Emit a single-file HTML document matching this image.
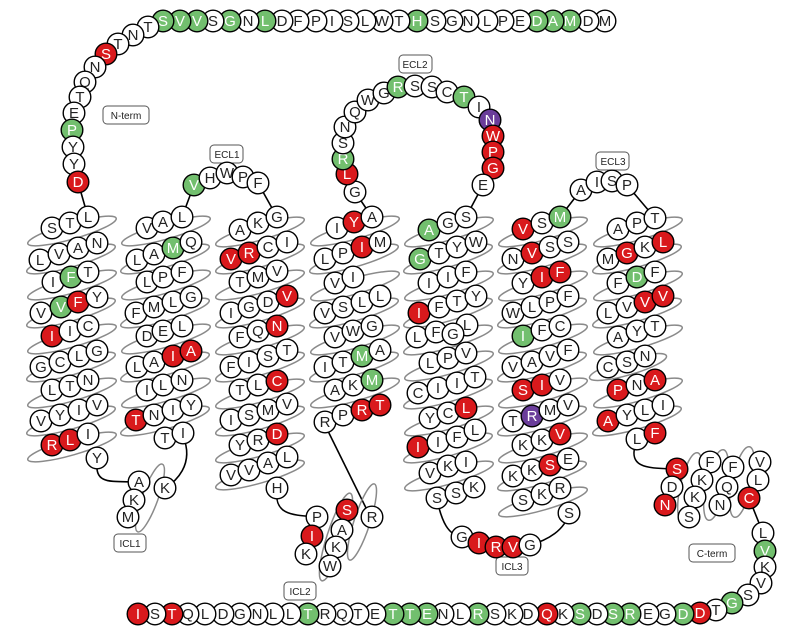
<!DOCTYPE html>
<html><head><meta charset="utf-8"><style>
html,body{margin:0;padding:0;background:#fff}
svg{display:block}
circle{fill:#fff;stroke:#000;stroke-width:1.4;r:10.8px}
.r circle{fill:#d9191c}.g circle{fill:#72bf6e}.p circle{fill:#6a3d9a}
text{font-family:"Liberation Sans",Arial,sans-serif;font-size:15px;text-anchor:middle;fill:#222}
.r text,.g text,.p text{fill:#fff}
.ln{fill:none;stroke:#000;stroke-width:1.6}
.el{fill:none;stroke:#8a8a8a;stroke-width:1.5}
.lb rect{fill:#fff;stroke:#555;stroke-width:1}
.lb text{font-size:10px;fill:#222}
</style></head><body>
<svg width="800" height="634" viewBox="0 0 800 634" xmlns="http://www.w3.org/2000/svg">
<path class="ln" d="M605 21 L163 21 L148 27 L133 35 L118 44 L106 54 L95 67 L85 82 L80 97 L74 113 L72 130 L73 147 L74 164 L78 182 L88 217"/>
<path class="ln" d="M97 462 C95 485 110 481 139 482"/>
<path class="ln" d="M183 436 C195 465 175 482 165 488"/>
<path class="ln" d="M182 217 L194 185 L210 178 L227 173 L243 177 L258 183 L277 217"/>
<path class="ln" d="M277 490 C274 515 292 515 317 517"/>
<path class="ln" d="M325 425 L368 512"/>
<path class="ln" d="M372 217 L355 192 L347 174 L343 159 L343 143 L345 127 L355 112 L368 100 L384 93 L398 87 L415 86 L432 87 L447 92 L464 97 L479 107 L490 120 L493 136 L493 152 L493 168 L483 185 L466 217"/>
<path class="ln" d="M437 500 C442 522 448 535 462 537 L479 543 L496 547 L513 547 L530 545 C548 540 565 530 569 513"/>
<path class="ln" d="M560 217 L581 190 L597 182 L612 181 L627 185 L655 218"/>
<path class="ln" d="M637 440 C625 470 650 468 677 469"/>
<path class="ln" d="M749 498 L763 533 L765 551 L765 567 L761 583 L748 595 L732 603 L716 610 L700 613 L138 613"/>
<g class="el">
<ellipse cx="72" cy="231" rx="46" ry="8" transform="rotate(-16 72 231)"/>
<ellipse cx="71" cy="259" rx="46" ry="8" transform="rotate(-16 71 259)"/>
<ellipse cx="72" cy="285" rx="46" ry="8" transform="rotate(-16 72 285)"/>
<ellipse cx="71" cy="313" rx="46" ry="8" transform="rotate(-16 71 313)"/>
<ellipse cx="72" cy="339" rx="46" ry="8" transform="rotate(-16 72 339)"/>
<ellipse cx="71" cy="367" rx="46" ry="8" transform="rotate(-16 71 367)"/>
<ellipse cx="72" cy="393" rx="46" ry="8" transform="rotate(-16 72 393)"/>
<ellipse cx="71" cy="421" rx="46" ry="8" transform="rotate(-16 71 421)"/>
<ellipse cx="72" cy="447" rx="46" ry="8" transform="rotate(-16 72 447)"/>
<ellipse cx="166" cy="231" rx="46" ry="8" transform="rotate(-16 166 231)"/>
<ellipse cx="165" cy="259" rx="46" ry="8" transform="rotate(-16 165 259)"/>
<ellipse cx="166" cy="285" rx="46" ry="8" transform="rotate(-16 166 285)"/>
<ellipse cx="165" cy="313" rx="46" ry="8" transform="rotate(-16 165 313)"/>
<ellipse cx="166" cy="339" rx="46" ry="8" transform="rotate(-16 166 339)"/>
<ellipse cx="165" cy="367" rx="46" ry="8" transform="rotate(-16 165 367)"/>
<ellipse cx="166" cy="393" rx="46" ry="8" transform="rotate(-16 166 393)"/>
<ellipse cx="165" cy="421" rx="46" ry="8" transform="rotate(-16 165 421)"/>
<ellipse cx="260" cy="232" rx="46" ry="8" transform="rotate(-16 260 232)"/>
<ellipse cx="260" cy="259" rx="46" ry="8" transform="rotate(-16 260 259)"/>
<ellipse cx="260" cy="285" rx="46" ry="8" transform="rotate(-16 260 285)"/>
<ellipse cx="260" cy="313" rx="46" ry="8" transform="rotate(-16 260 313)"/>
<ellipse cx="260" cy="340" rx="46" ry="8" transform="rotate(-16 260 340)"/>
<ellipse cx="260" cy="367" rx="46" ry="8" transform="rotate(-16 260 367)"/>
<ellipse cx="260" cy="394" rx="46" ry="8" transform="rotate(-16 260 394)"/>
<ellipse cx="260" cy="421" rx="46" ry="8" transform="rotate(-16 260 421)"/>
<ellipse cx="260" cy="448" rx="46" ry="8" transform="rotate(-16 260 448)"/>
<ellipse cx="260" cy="475" rx="46" ry="8" transform="rotate(-16 260 475)"/>
<ellipse cx="355" cy="231" rx="46" ry="8" transform="rotate(-16 355 231)"/>
<ellipse cx="354" cy="259" rx="46" ry="8" transform="rotate(-16 354 259)"/>
<ellipse cx="355" cy="286" rx="46" ry="8" transform="rotate(-16 355 286)"/>
<ellipse cx="354" cy="313" rx="46" ry="8" transform="rotate(-16 354 313)"/>
<ellipse cx="355" cy="340" rx="46" ry="8" transform="rotate(-16 355 340)"/>
<ellipse cx="354" cy="367" rx="46" ry="8" transform="rotate(-16 354 367)"/>
<ellipse cx="355" cy="393" rx="46" ry="8" transform="rotate(-16 355 393)"/>
<ellipse cx="449" cy="232" rx="46" ry="8" transform="rotate(-16 449 232)"/>
<ellipse cx="448" cy="259" rx="46" ry="8" transform="rotate(-16 448 259)"/>
<ellipse cx="449" cy="286" rx="46" ry="8" transform="rotate(-16 449 286)"/>
<ellipse cx="448" cy="313" rx="46" ry="8" transform="rotate(-16 448 313)"/>
<ellipse cx="448" cy="340" rx="46" ry="8" transform="rotate(-16 448 340)"/>
<ellipse cx="449" cy="366" rx="46" ry="8" transform="rotate(-16 449 366)"/>
<ellipse cx="448" cy="394" rx="46" ry="8" transform="rotate(-16 448 394)"/>
<ellipse cx="449" cy="421" rx="46" ry="8" transform="rotate(-16 449 421)"/>
<ellipse cx="448" cy="448" rx="46" ry="8" transform="rotate(-16 448 448)"/>
<ellipse cx="449" cy="476" rx="46" ry="8" transform="rotate(-16 449 476)"/>
<ellipse cx="543" cy="232" rx="46" ry="8" transform="rotate(-16 543 232)"/>
<ellipse cx="542" cy="259" rx="46" ry="8" transform="rotate(-16 542 259)"/>
<ellipse cx="543" cy="286" rx="46" ry="8" transform="rotate(-16 543 286)"/>
<ellipse cx="542" cy="313" rx="46" ry="8" transform="rotate(-16 542 313)"/>
<ellipse cx="543" cy="339" rx="46" ry="8" transform="rotate(-16 543 339)"/>
<ellipse cx="542" cy="367" rx="46" ry="8" transform="rotate(-16 542 367)"/>
<ellipse cx="543" cy="393" rx="46" ry="8" transform="rotate(-16 543 393)"/>
<ellipse cx="542" cy="421" rx="46" ry="8" transform="rotate(-16 542 421)"/>
<ellipse cx="543" cy="448" rx="46" ry="8" transform="rotate(-16 543 448)"/>
<ellipse cx="542" cy="476" rx="46" ry="8" transform="rotate(-16 542 476)"/>
<ellipse cx="543" cy="502" rx="46" ry="8" transform="rotate(-16 543 502)"/>
<ellipse cx="638" cy="232" rx="46" ry="8" transform="rotate(-16 638 232)"/>
<ellipse cx="637" cy="259" rx="46" ry="8" transform="rotate(-16 637 259)"/>
<ellipse cx="638" cy="286" rx="46" ry="8" transform="rotate(-16 638 286)"/>
<ellipse cx="637" cy="313" rx="46" ry="8" transform="rotate(-16 637 313)"/>
<ellipse cx="638" cy="340" rx="46" ry="8" transform="rotate(-16 638 340)"/>
<ellipse cx="628" cy="367" rx="40" ry="8" transform="rotate(-16 628 367)"/>
<ellipse cx="638" cy="393" rx="46" ry="8" transform="rotate(-16 638 393)"/>
<ellipse cx="637" cy="421" rx="46" ry="8" transform="rotate(-16 637 421)"/>
<ellipse cx="150" cy="498" rx="8" ry="36" transform="rotate(20 150 498)"/>
<ellipse cx="336" cy="537" rx="9" ry="46" transform="rotate(18 336 537)"/>
<ellipse cx="362" cy="522" rx="8" ry="40" transform="rotate(18 362 522)"/>
<ellipse cx="690" cy="488" rx="10" ry="36" transform="rotate(12 690 488)"/>
<ellipse cx="716" cy="485" rx="10" ry="36" transform="rotate(12 716 485)"/>
<ellipse cx="742" cy="482" rx="10" ry="36" transform="rotate(12 742 482)"/>
</g>
<g class="lb">
<rect x="103" y="106" width="46" height="18" rx="4"/><text x="126" y="119">N-term</text>
<rect x="210" y="145" width="33" height="18" rx="4"/><text x="227" y="158">ECL1</text>
<rect x="399" y="55" width="33" height="18" rx="4"/><text x="415" y="68">ECL2</text>
<rect x="596" y="152" width="33" height="18" rx="4"/><text x="613" y="165">ECL3</text>
<rect x="114" y="534" width="32" height="18" rx="4"/><text x="130" y="547">ICL1</text>
<rect x="284" y="582" width="32" height="18" rx="4"/><text x="300" y="595">ICL2</text>
<rect x="496" y="557" width="32" height="18" rx="4"/><text x="512" y="570">ICL3</text>
<rect x="689" y="544" width="46" height="18" rx="4"/><text x="712" y="557">C-term</text>
</g>
<g>
<g><circle cx="605" cy="21" r="10"/><text x="605" y="26">M</text></g>
<g><circle cx="588" cy="21" r="10"/><text x="588" y="26">D</text></g>
<g class="g"><circle cx="570" cy="21" r="10"/><text x="570" y="26">M</text></g>
<g class="g"><circle cx="553" cy="21" r="10"/><text x="553" y="26">A</text></g>
<g class="g"><circle cx="537" cy="21" r="10"/><text x="537" y="26">D</text></g>
<g><circle cx="520" cy="21" r="10"/><text x="520" y="26">E</text></g>
<g><circle cx="503" cy="21" r="10"/><text x="503" y="26">P</text></g>
<g><circle cx="487" cy="21" r="10"/><text x="487" y="26">L</text></g>
<g><circle cx="468" cy="21" r="10"/><text x="468" y="26">N</text></g>
<g><circle cx="452" cy="21" r="10"/><text x="452" y="26">G</text></g>
<g><circle cx="435" cy="21" r="10"/><text x="435" y="26">S</text></g>
<g class="g"><circle cx="417" cy="21" r="10"/><text x="417" y="26">H</text></g>
<g><circle cx="399" cy="21" r="10"/><text x="399" y="26">T</text></g>
<g><circle cx="382" cy="21" r="10"/><text x="382" y="26">W</text></g>
<g><circle cx="365" cy="21" r="10"/><text x="365" y="26">L</text></g>
<g><circle cx="348" cy="21" r="10"/><text x="348" y="26">S</text></g>
<g><circle cx="332" cy="21" r="10"/><text x="332" y="26">I</text></g>
<g><circle cx="316" cy="21" r="10"/><text x="316" y="26">P</text></g>
<g><circle cx="298" cy="21" r="10"/><text x="298" y="26">F</text></g>
<g><circle cx="282" cy="21" r="10"/><text x="282" y="26">D</text></g>
<g class="g"><circle cx="265" cy="21" r="10"/><text x="265" y="26">L</text></g>
<g><circle cx="248" cy="21" r="10"/><text x="248" y="26">N</text></g>
<g class="g"><circle cx="230" cy="21" r="10"/><text x="230" y="26">G</text></g>
<g><circle cx="213" cy="21" r="10"/><text x="213" y="26">S</text></g>
<g class="g"><circle cx="197" cy="21" r="10"/><text x="197" y="26">V</text></g>
<g class="g"><circle cx="180" cy="21" r="10"/><text x="180" y="26">V</text></g>
<g class="g"><circle cx="163" cy="21" r="10"/><text x="163" y="26">S</text></g>
<g><circle cx="148" cy="27" r="10"/><text x="148" y="32">T</text></g>
<g><circle cx="133" cy="35" r="10"/><text x="133" y="40">N</text></g>
<g><circle cx="118" cy="44" r="10"/><text x="118" y="49">T</text></g>
<g class="r"><circle cx="106" cy="54" r="10"/><text x="106" y="59">S</text></g>
<g><circle cx="95" cy="67" r="10"/><text x="95" y="72">N</text></g>
<g><circle cx="85" cy="82" r="10"/><text x="85" y="87">Q</text></g>
<g><circle cx="80" cy="97" r="10"/><text x="80" y="102">T</text></g>
<g><circle cx="74" cy="113" r="10"/><text x="74" y="118">E</text></g>
<g class="g"><circle cx="72" cy="130" r="10"/><text x="72" y="135">P</text></g>
<g><circle cx="73" cy="147" r="10"/><text x="73" y="152">Y</text></g>
<g><circle cx="74" cy="164" r="10"/><text x="74" y="169">Y</text></g>
<g class="r"><circle cx="78" cy="182" r="10"/><text x="78" y="187">D</text></g>
<g><circle cx="52" cy="228" r="10"/><text x="52" y="233">S</text></g>
<g><circle cx="70" cy="223" r="10"/><text x="70" y="228">T</text></g>
<g><circle cx="88" cy="217" r="10"/><text x="88" y="222">L</text></g>
<g><circle cx="40" cy="260" r="10"/><text x="40" y="265">L</text></g>
<g><circle cx="59" cy="254" r="10"/><text x="59" y="259">V</text></g>
<g><circle cx="78" cy="248" r="10"/><text x="78" y="253">A</text></g>
<g><circle cx="97" cy="243" r="10"/><text x="97" y="248">N</text></g>
<g><circle cx="53" cy="282" r="10"/><text x="53" y="287">I</text></g>
<g class="g"><circle cx="71" cy="277" r="10"/><text x="71" y="282">F</text></g>
<g><circle cx="88" cy="272" r="10"/><text x="88" y="277">T</text></g>
<g><circle cx="41" cy="313" r="10"/><text x="41" y="318">V</text></g>
<g class="g"><circle cx="61" cy="307" r="10"/><text x="61" y="312">V</text></g>
<g class="r"><circle cx="78" cy="302" r="10"/><text x="78" y="307">F</text></g>
<g><circle cx="97" cy="297" r="10"/><text x="97" y="302">Y</text></g>
<g class="r"><circle cx="52" cy="336" r="10"/><text x="52" y="341">I</text></g>
<g><circle cx="70" cy="331" r="10"/><text x="70" y="336">I</text></g>
<g><circle cx="88" cy="326" r="10"/><text x="88" y="331">C</text></g>
<g><circle cx="41" cy="367" r="10"/><text x="41" y="372">G</text></g>
<g><circle cx="60" cy="362" r="10"/><text x="60" y="367">C</text></g>
<g><circle cx="79" cy="356" r="10"/><text x="79" y="361">L</text></g>
<g><circle cx="97" cy="351" r="10"/><text x="97" y="356">G</text></g>
<g><circle cx="52" cy="390" r="10"/><text x="52" y="395">L</text></g>
<g><circle cx="70" cy="386" r="10"/><text x="70" y="391">T</text></g>
<g><circle cx="88" cy="380" r="10"/><text x="88" y="385">N</text></g>
<g><circle cx="41" cy="421" r="10"/><text x="41" y="426">V</text></g>
<g><circle cx="60" cy="415" r="10"/><text x="60" y="420">Y</text></g>
<g><circle cx="79" cy="410" r="10"/><text x="79" y="415">I</text></g>
<g><circle cx="97" cy="405" r="10"/><text x="97" y="410">V</text></g>
<g class="r"><circle cx="52" cy="445" r="10"/><text x="52" y="450">R</text></g>
<g class="r"><circle cx="70" cy="440" r="10"/><text x="70" y="445">L</text></g>
<g><circle cx="88" cy="434" r="10"/><text x="88" y="439">I</text></g>
<g><circle cx="97" cy="458" r="10"/><text x="97" y="463">Y</text></g>
<g><circle cx="139" cy="482" r="10"/><text x="139" y="487">A</text></g>
<g><circle cx="134" cy="500" r="10"/><text x="134" y="505">K</text></g>
<g><circle cx="128" cy="517" r="10"/><text x="128" y="522">M</text></g>
<g><circle cx="165" cy="488" r="10"/><text x="165" y="493">K</text></g>
<g><circle cx="147" cy="228" r="10"/><text x="147" y="233">V</text></g>
<g><circle cx="163" cy="222" r="10"/><text x="163" y="227">A</text></g>
<g><circle cx="182" cy="217" r="10"/><text x="182" y="222">L</text></g>
<g><circle cx="137" cy="260" r="10"/><text x="137" y="265">L</text></g>
<g><circle cx="154" cy="254" r="10"/><text x="154" y="259">A</text></g>
<g class="g"><circle cx="173" cy="248" r="10"/><text x="173" y="253">M</text></g>
<g><circle cx="191" cy="242" r="10"/><text x="191" y="247">Q</text></g>
<g><circle cx="147" cy="282" r="10"/><text x="147" y="287">L</text></g>
<g><circle cx="163" cy="277" r="10"/><text x="163" y="282">P</text></g>
<g><circle cx="182" cy="272" r="10"/><text x="182" y="277">F</text></g>
<g><circle cx="136" cy="313" r="10"/><text x="136" y="318">F</text></g>
<g><circle cx="154" cy="307" r="10"/><text x="154" y="312">M</text></g>
<g><circle cx="173" cy="302" r="10"/><text x="173" y="307">L</text></g>
<g><circle cx="191" cy="297" r="10"/><text x="191" y="302">G</text></g>
<g><circle cx="147" cy="336" r="10"/><text x="147" y="341">D</text></g>
<g><circle cx="163" cy="331" r="10"/><text x="163" y="336">E</text></g>
<g><circle cx="182" cy="326" r="10"/><text x="182" y="331">L</text></g>
<g><circle cx="137" cy="367" r="10"/><text x="137" y="372">L</text></g>
<g><circle cx="154" cy="362" r="10"/><text x="154" y="367">A</text></g>
<g class="r"><circle cx="173" cy="356" r="10"/><text x="173" y="361">I</text></g>
<g class="r"><circle cx="191" cy="351" r="10"/><text x="191" y="356">A</text></g>
<g><circle cx="147" cy="390" r="10"/><text x="147" y="395">I</text></g>
<g><circle cx="163" cy="385" r="10"/><text x="163" y="390">L</text></g>
<g><circle cx="182" cy="380" r="10"/><text x="182" y="385">N</text></g>
<g class="r"><circle cx="136" cy="420" r="10"/><text x="136" y="425">T</text></g>
<g><circle cx="154" cy="415" r="10"/><text x="154" y="420">N</text></g>
<g><circle cx="173" cy="410" r="10"/><text x="173" y="415">I</text></g>
<g><circle cx="191" cy="405" r="10"/><text x="191" y="410">Y</text></g>
<g><circle cx="165" cy="438" r="10"/><text x="165" y="443">T</text></g>
<g><circle cx="183" cy="433" r="10"/><text x="183" y="438">I</text></g>
<g class="g"><circle cx="194" cy="185" r="10"/><text x="194" y="190">V</text></g>
<g><circle cx="210" cy="178" r="10"/><text x="210" y="183">H</text></g>
<g><circle cx="227" cy="173" r="10"/><text x="227" y="178">W</text></g>
<g><circle cx="243" cy="177" r="10"/><text x="243" y="182">P</text></g>
<g><circle cx="258" cy="183" r="10"/><text x="258" y="188">F</text></g>
<g><circle cx="240" cy="230" r="10"/><text x="240" y="235">A</text></g>
<g><circle cx="258" cy="223" r="10"/><text x="258" y="228">K</text></g>
<g><circle cx="277" cy="217" r="10"/><text x="277" y="222">G</text></g>
<g class="r"><circle cx="231" cy="259" r="10"/><text x="231" y="264">V</text></g>
<g class="r"><circle cx="249" cy="253" r="10"/><text x="249" y="258">R</text></g>
<g><circle cx="268" cy="247" r="10"/><text x="268" y="252">C</text></g>
<g><circle cx="287" cy="242" r="10"/><text x="287" y="247">I</text></g>
<g><circle cx="240" cy="282" r="10"/><text x="240" y="287">T</text></g>
<g><circle cx="258" cy="277" r="10"/><text x="258" y="282">M</text></g>
<g><circle cx="277" cy="271" r="10"/><text x="277" y="276">V</text></g>
<g><circle cx="231" cy="313" r="10"/><text x="231" y="318">I</text></g>
<g><circle cx="249" cy="307" r="10"/><text x="249" y="312">G</text></g>
<g><circle cx="268" cy="302" r="10"/><text x="268" y="307">D</text></g>
<g class="r"><circle cx="287" cy="296" r="10"/><text x="287" y="301">V</text></g>
<g><circle cx="240" cy="337" r="10"/><text x="240" y="342">F</text></g>
<g><circle cx="258" cy="331" r="10"/><text x="258" y="336">Q</text></g>
<g class="r"><circle cx="277" cy="326" r="10"/><text x="277" y="331">N</text></g>
<g><circle cx="231" cy="367" r="10"/><text x="231" y="372">F</text></g>
<g><circle cx="249" cy="362" r="10"/><text x="249" y="367">I</text></g>
<g><circle cx="268" cy="356" r="10"/><text x="268" y="361">S</text></g>
<g><circle cx="287" cy="350" r="10"/><text x="287" y="355">T</text></g>
<g><circle cx="240" cy="390" r="10"/><text x="240" y="395">T</text></g>
<g><circle cx="258" cy="385" r="10"/><text x="258" y="390">L</text></g>
<g class="r"><circle cx="277" cy="381" r="10"/><text x="277" y="386">C</text></g>
<g><circle cx="231" cy="420" r="10"/><text x="231" y="425">I</text></g>
<g><circle cx="249" cy="415" r="10"/><text x="249" y="420">S</text></g>
<g><circle cx="268" cy="410" r="10"/><text x="268" y="415">M</text></g>
<g><circle cx="287" cy="404" r="10"/><text x="287" y="409">V</text></g>
<g><circle cx="240" cy="445" r="10"/><text x="240" y="450">Y</text></g>
<g><circle cx="258" cy="440" r="10"/><text x="258" y="445">R</text></g>
<g class="r"><circle cx="277" cy="434" r="10"/><text x="277" y="439">D</text></g>
<g><circle cx="231" cy="475" r="10"/><text x="231" y="480">V</text></g>
<g><circle cx="249" cy="470" r="10"/><text x="249" y="475">V</text></g>
<g><circle cx="268" cy="463" r="10"/><text x="268" y="468">A</text></g>
<g><circle cx="287" cy="457" r="10"/><text x="287" y="462">L</text></g>
<g><circle cx="277" cy="488" r="10"/><text x="277" y="493">H</text></g>
<g><circle cx="317" cy="517" r="10"/><text x="317" y="522">P</text></g>
<g class="r"><circle cx="312" cy="536" r="10"/><text x="312" y="541">I</text></g>
<g><circle cx="306" cy="554" r="10"/><text x="306" y="559">K</text></g>
<g class="r"><circle cx="347" cy="510" r="10"/><text x="347" y="515">S</text></g>
<g><circle cx="342" cy="530" r="10"/><text x="342" y="535">A</text></g>
<g><circle cx="336" cy="547" r="10"/><text x="336" y="552">K</text></g>
<g><circle cx="330" cy="566" r="10"/><text x="330" y="571">W</text></g>
<g><circle cx="372" cy="517" r="10"/><text x="372" y="522">R</text></g>
<g><circle cx="337" cy="228" r="10"/><text x="337" y="233">I</text></g>
<g class="r"><circle cx="354" cy="222" r="10"/><text x="354" y="227">Y</text></g>
<g><circle cx="372" cy="217" r="10"/><text x="372" y="222">A</text></g>
<g><circle cx="325" cy="259" r="10"/><text x="325" y="264">L</text></g>
<g><circle cx="343" cy="253" r="10"/><text x="343" y="258">P</text></g>
<g class="r"><circle cx="362" cy="247" r="10"/><text x="362" y="252">I</text></g>
<g><circle cx="380" cy="242" r="10"/><text x="380" y="247">M</text></g>
<g><circle cx="335" cy="283" r="10"/><text x="335" y="288">V</text></g>
<g><circle cx="353" cy="277" r="10"/><text x="353" y="282">I</text></g>
<g><circle cx="325" cy="313" r="10"/><text x="325" y="318">V</text></g>
<g><circle cx="343" cy="307" r="10"/><text x="343" y="312">S</text></g>
<g><circle cx="362" cy="302" r="10"/><text x="362" y="307">L</text></g>
<g><circle cx="380" cy="296" r="10"/><text x="380" y="301">L</text></g>
<g><circle cx="335" cy="337" r="10"/><text x="335" y="342">V</text></g>
<g><circle cx="353" cy="331" r="10"/><text x="353" y="336">W</text></g>
<g><circle cx="372" cy="326" r="10"/><text x="372" y="331">G</text></g>
<g><circle cx="325" cy="367" r="10"/><text x="325" y="372">I</text></g>
<g><circle cx="343" cy="362" r="10"/><text x="343" y="367">T</text></g>
<g class="g"><circle cx="362" cy="356" r="10"/><text x="362" y="361">M</text></g>
<g><circle cx="380" cy="350" r="10"/><text x="380" y="355">A</text></g>
<g><circle cx="335" cy="390" r="10"/><text x="335" y="395">A</text></g>
<g><circle cx="353" cy="385" r="10"/><text x="353" y="390">K</text></g>
<g class="g"><circle cx="372" cy="380" r="10"/><text x="372" y="385">M</text></g>
<g><circle cx="325" cy="422" r="10"/><text x="325" y="427">R</text></g>
<g><circle cx="343" cy="415" r="10"/><text x="343" y="420">P</text></g>
<g class="r"><circle cx="362" cy="410" r="10"/><text x="362" y="415">R</text></g>
<g class="r"><circle cx="380" cy="405" r="10"/><text x="380" y="410">T</text></g>
<g><circle cx="355" cy="192" r="10"/><text x="355" y="197">G</text></g>
<g class="r"><circle cx="347" cy="174" r="10"/><text x="347" y="179">L</text></g>
<g class="g"><circle cx="343" cy="159" r="10"/><text x="343" y="164">R</text></g>
<g><circle cx="343" cy="143" r="10"/><text x="343" y="148">S</text></g>
<g><circle cx="345" cy="127" r="10"/><text x="345" y="132">N</text></g>
<g><circle cx="355" cy="112" r="10"/><text x="355" y="117">Q</text></g>
<g><circle cx="368" cy="100" r="10"/><text x="368" y="105">W</text></g>
<g><circle cx="384" cy="93" r="10"/><text x="384" y="98">G</text></g>
<g class="g"><circle cx="398" cy="87" r="10"/><text x="398" y="92">R</text></g>
<g><circle cx="415" cy="86" r="10"/><text x="415" y="91">S</text></g>
<g><circle cx="432" cy="87" r="10"/><text x="432" y="92">S</text></g>
<g><circle cx="447" cy="92" r="10"/><text x="447" y="97">C</text></g>
<g class="g"><circle cx="464" cy="97" r="10"/><text x="464" y="102">T</text></g>
<g><circle cx="479" cy="107" r="10"/><text x="479" y="112">I</text></g>
<g class="p"><circle cx="490" cy="120" r="10"/><text x="490" y="125">N</text></g>
<g class="r"><circle cx="493" cy="136" r="10"/><text x="493" y="141">W</text></g>
<g class="r"><circle cx="493" cy="152" r="10"/><text x="493" y="157">P</text></g>
<g class="r"><circle cx="493" cy="168" r="10"/><text x="493" y="173">G</text></g>
<g><circle cx="483" cy="185" r="10"/><text x="483" y="190">E</text></g>
<g class="g"><circle cx="429" cy="230" r="10"/><text x="429" y="235">A</text></g>
<g><circle cx="448" cy="223" r="10"/><text x="448" y="228">G</text></g>
<g><circle cx="466" cy="217" r="10"/><text x="466" y="222">S</text></g>
<g class="g"><circle cx="420" cy="259" r="10"/><text x="420" y="264">G</text></g>
<g><circle cx="439" cy="253" r="10"/><text x="439" y="258">T</text></g>
<g><circle cx="457" cy="247" r="10"/><text x="457" y="252">Y</text></g>
<g><circle cx="476" cy="242" r="10"/><text x="476" y="247">W</text></g>
<g><circle cx="429" cy="283" r="10"/><text x="429" y="288">I</text></g>
<g><circle cx="448" cy="277" r="10"/><text x="448" y="282">I</text></g>
<g><circle cx="466" cy="272" r="10"/><text x="466" y="277">F</text></g>
<g class="r"><circle cx="419" cy="313" r="10"/><text x="419" y="318">I</text></g>
<g><circle cx="439" cy="307" r="10"/><text x="439" y="312">F</text></g>
<g><circle cx="457" cy="301" r="10"/><text x="457" y="306">T</text></g>
<g><circle cx="476" cy="296" r="10"/><text x="476" y="301">Y</text></g>
<g><circle cx="467" cy="325" r="10"/><text x="467" y="330">L</text></g>
<g><circle cx="417" cy="337" r="10"/><text x="417" y="342">L</text></g>
<g><circle cx="436" cy="332" r="10"/><text x="436" y="337">F</text></g>
<g><circle cx="453" cy="334" r="10"/><text x="453" y="339">G</text></g>
<g><circle cx="430" cy="363" r="10"/><text x="430" y="368">L</text></g>
<g><circle cx="448" cy="358" r="10"/><text x="448" y="363">P</text></g>
<g><circle cx="466" cy="353" r="10"/><text x="466" y="358">V</text></g>
<g><circle cx="418" cy="393" r="10"/><text x="418" y="398">C</text></g>
<g><circle cx="438" cy="388" r="10"/><text x="438" y="393">I</text></g>
<g><circle cx="457" cy="383" r="10"/><text x="457" y="388">I</text></g>
<g><circle cx="475" cy="377" r="10"/><text x="475" y="382">T</text></g>
<g><circle cx="430" cy="418" r="10"/><text x="430" y="423">Y</text></g>
<g><circle cx="448" cy="413" r="10"/><text x="448" y="418">C</text></g>
<g class="r"><circle cx="466" cy="408" r="10"/><text x="466" y="413">L</text></g>
<g class="r"><circle cx="418" cy="447" r="10"/><text x="418" y="452">I</text></g>
<g><circle cx="438" cy="442" r="10"/><text x="438" y="447">I</text></g>
<g><circle cx="457" cy="437" r="10"/><text x="457" y="442">F</text></g>
<g><circle cx="475" cy="430" r="10"/><text x="475" y="435">L</text></g>
<g><circle cx="430" cy="473" r="10"/><text x="430" y="478">V</text></g>
<g><circle cx="448" cy="466" r="10"/><text x="448" y="471">K</text></g>
<g><circle cx="466" cy="462" r="10"/><text x="466" y="467">I</text></g>
<g><circle cx="437" cy="498" r="10"/><text x="437" y="503">S</text></g>
<g><circle cx="456" cy="493" r="10"/><text x="456" y="498">S</text></g>
<g><circle cx="474" cy="487" r="10"/><text x="474" y="492">K</text></g>
<g><circle cx="462" cy="537" r="10"/><text x="462" y="542">G</text></g>
<g class="r"><circle cx="479" cy="543" r="10"/><text x="479" y="548">I</text></g>
<g class="r"><circle cx="496" cy="547" r="10"/><text x="496" y="552">R</text></g>
<g class="r"><circle cx="513" cy="547" r="10"/><text x="513" y="552">V</text></g>
<g><circle cx="530" cy="545" r="10"/><text x="530" y="550">G</text></g>
<g><circle cx="569" cy="513" r="10"/><text x="569" y="518">S</text></g>
<g class="r"><circle cx="523" cy="229" r="10"/><text x="523" y="234">V</text></g>
<g><circle cx="542" cy="223" r="10"/><text x="542" y="228">S</text></g>
<g class="g"><circle cx="560" cy="217" r="10"/><text x="560" y="222">M</text></g>
<g><circle cx="513" cy="259" r="10"/><text x="513" y="264">N</text></g>
<g class="r"><circle cx="532" cy="253" r="10"/><text x="532" y="258">V</text></g>
<g><circle cx="550" cy="247" r="10"/><text x="550" y="252">S</text></g>
<g><circle cx="568" cy="242" r="10"/><text x="568" y="247">S</text></g>
<g><circle cx="523" cy="283" r="10"/><text x="523" y="288">Y</text></g>
<g class="r"><circle cx="542" cy="277" r="10"/><text x="542" y="282">I</text></g>
<g class="r"><circle cx="560" cy="272" r="10"/><text x="560" y="277">F</text></g>
<g><circle cx="513" cy="313" r="10"/><text x="513" y="318">W</text></g>
<g><circle cx="532" cy="307" r="10"/><text x="532" y="312">L</text></g>
<g><circle cx="550" cy="302" r="10"/><text x="550" y="307">P</text></g>
<g><circle cx="568" cy="296" r="10"/><text x="568" y="301">F</text></g>
<g class="g"><circle cx="523" cy="336" r="10"/><text x="523" y="341">I</text></g>
<g><circle cx="542" cy="330" r="10"/><text x="542" y="335">F</text></g>
<g><circle cx="560" cy="326" r="10"/><text x="560" y="331">C</text></g>
<g><circle cx="513" cy="367" r="10"/><text x="513" y="372">V</text></g>
<g><circle cx="532" cy="362" r="10"/><text x="532" y="367">A</text></g>
<g><circle cx="550" cy="356" r="10"/><text x="550" y="361">V</text></g>
<g><circle cx="568" cy="350" r="10"/><text x="568" y="355">F</text></g>
<g class="r"><circle cx="523" cy="390" r="10"/><text x="523" y="395">S</text></g>
<g class="r"><circle cx="542" cy="385" r="10"/><text x="542" y="390">I</text></g>
<g><circle cx="560" cy="380" r="10"/><text x="560" y="385">V</text></g>
<g><circle cx="513" cy="421" r="10"/><text x="513" y="426">T</text></g>
<g class="p"><circle cx="532" cy="416" r="10"/><text x="532" y="421">R</text></g>
<g><circle cx="550" cy="410" r="10"/><text x="550" y="415">M</text></g>
<g><circle cx="568" cy="405" r="10"/><text x="568" y="410">V</text></g>
<g><circle cx="523" cy="445" r="10"/><text x="523" y="450">K</text></g>
<g><circle cx="542" cy="440" r="10"/><text x="542" y="445">K</text></g>
<g class="r"><circle cx="560" cy="434" r="10"/><text x="560" y="439">V</text></g>
<g><circle cx="513" cy="476" r="10"/><text x="513" y="481">K</text></g>
<g><circle cx="532" cy="470" r="10"/><text x="532" y="475">K</text></g>
<g class="r"><circle cx="550" cy="465" r="10"/><text x="550" y="470">S</text></g>
<g><circle cx="568" cy="459" r="10"/><text x="568" y="464">E</text></g>
<g><circle cx="523" cy="500" r="10"/><text x="523" y="505">S</text></g>
<g><circle cx="542" cy="494" r="10"/><text x="542" y="499">K</text></g>
<g><circle cx="560" cy="488" r="10"/><text x="560" y="493">R</text></g>
<g><circle cx="581" cy="190" r="10"/><text x="581" y="195">A</text></g>
<g><circle cx="597" cy="182" r="10"/><text x="597" y="187">I</text></g>
<g><circle cx="612" cy="181" r="10"/><text x="612" y="186">S</text></g>
<g><circle cx="627" cy="185" r="10"/><text x="627" y="190">P</text></g>
<g><circle cx="618" cy="229" r="10"/><text x="618" y="234">A</text></g>
<g><circle cx="637" cy="223" r="10"/><text x="637" y="228">P</text></g>
<g><circle cx="655" cy="218" r="10"/><text x="655" y="223">T</text></g>
<g><circle cx="608" cy="259" r="10"/><text x="608" y="264">M</text></g>
<g class="r"><circle cx="627" cy="253" r="10"/><text x="627" y="258">G</text></g>
<g><circle cx="645" cy="247" r="10"/><text x="645" y="252">K</text></g>
<g class="r"><circle cx="663" cy="242" r="10"/><text x="663" y="247">L</text></g>
<g><circle cx="618" cy="283" r="10"/><text x="618" y="288">F</text></g>
<g class="g"><circle cx="637" cy="277" r="10"/><text x="637" y="282">D</text></g>
<g><circle cx="655" cy="272" r="10"/><text x="655" y="277">F</text></g>
<g><circle cx="608" cy="313" r="10"/><text x="608" y="318">L</text></g>
<g><circle cx="627" cy="307" r="10"/><text x="627" y="312">V</text></g>
<g class="r"><circle cx="645" cy="302" r="10"/><text x="645" y="307">V</text></g>
<g class="r"><circle cx="663" cy="296" r="10"/><text x="663" y="301">V</text></g>
<g><circle cx="618" cy="337" r="10"/><text x="618" y="342">A</text></g>
<g><circle cx="637" cy="331" r="10"/><text x="637" y="336">Y</text></g>
<g><circle cx="655" cy="326" r="10"/><text x="655" y="331">T</text></g>
<g><circle cx="608" cy="367" r="10"/><text x="608" y="372">C</text></g>
<g><circle cx="627" cy="362" r="10"/><text x="627" y="367">S</text></g>
<g><circle cx="645" cy="356" r="10"/><text x="645" y="361">N</text></g>
<g class="r"><circle cx="618" cy="390" r="10"/><text x="618" y="395">P</text></g>
<g><circle cx="637" cy="385" r="10"/><text x="637" y="390">N</text></g>
<g class="r"><circle cx="655" cy="380" r="10"/><text x="655" y="385">A</text></g>
<g class="r"><circle cx="608" cy="421" r="10"/><text x="608" y="426">A</text></g>
<g><circle cx="627" cy="415" r="10"/><text x="627" y="420">Y</text></g>
<g><circle cx="645" cy="410" r="10"/><text x="645" y="415">L</text></g>
<g><circle cx="663" cy="405" r="10"/><text x="663" y="410">I</text></g>
<g><circle cx="637" cy="439" r="10"/><text x="637" y="444">L</text></g>
<g class="r"><circle cx="655" cy="433" r="10"/><text x="655" y="438">F</text></g>
<g class="r"><circle cx="677" cy="469" r="10"/><text x="677" y="474">S</text></g>
<g><circle cx="710" cy="462" r="10"/><text x="710" y="467">F</text></g>
<g><circle cx="733" cy="467" r="10"/><text x="733" y="472">F</text></g>
<g><circle cx="760" cy="462" r="10"/><text x="760" y="467">V</text></g>
<g><circle cx="672" cy="487" r="10"/><text x="672" y="492">D</text></g>
<g><circle cx="702" cy="480" r="10"/><text x="702" y="485">K</text></g>
<g><circle cx="727" cy="487" r="10"/><text x="727" y="492">Q</text></g>
<g><circle cx="758" cy="480" r="10"/><text x="758" y="485">L</text></g>
<g class="r"><circle cx="665" cy="505" r="10"/><text x="665" y="510">N</text></g>
<g><circle cx="695" cy="497" r="10"/><text x="695" y="502">K</text></g>
<g><circle cx="720" cy="505" r="10"/><text x="720" y="510">N</text></g>
<g class="r"><circle cx="749" cy="498" r="10"/><text x="749" y="503">C</text></g>
<g><circle cx="689" cy="517" r="10"/><text x="689" y="522">S</text></g>
<g><circle cx="763" cy="533" r="10"/><text x="763" y="538">L</text></g>
<g class="g"><circle cx="765" cy="551" r="10"/><text x="765" y="556">V</text></g>
<g><circle cx="765" cy="567" r="10"/><text x="765" y="572">K</text></g>
<g><circle cx="761" cy="583" r="10"/><text x="761" y="588">V</text></g>
<g><circle cx="748" cy="595" r="10"/><text x="748" y="600">S</text></g>
<g class="g"><circle cx="732" cy="603" r="10"/><text x="732" y="608">G</text></g>
<g><circle cx="716" cy="610" r="10"/><text x="716" y="615">T</text></g>
<g class="r"><circle cx="700" cy="613" r="10"/><text x="700" y="618">D</text></g>
<g class="g"><circle cx="683" cy="614" r="10"/><text x="683" y="619">D</text></g>
<g><circle cx="665" cy="614" r="10"/><text x="665" y="619">G</text></g>
<g><circle cx="648" cy="614" r="10"/><text x="648" y="619">E</text></g>
<g class="g"><circle cx="630" cy="614" r="10"/><text x="630" y="619">R</text></g>
<g class="g"><circle cx="613" cy="614" r="10"/><text x="613" y="619">S</text></g>
<g><circle cx="597" cy="614" r="10"/><text x="597" y="619">D</text></g>
<g class="g"><circle cx="580" cy="614" r="10"/><text x="580" y="619">S</text></g>
<g><circle cx="563" cy="614" r="10"/><text x="563" y="619">K</text></g>
<g class="r"><circle cx="547" cy="614" r="10"/><text x="547" y="619">Q</text></g>
<g><circle cx="528" cy="614" r="10"/><text x="528" y="619">D</text></g>
<g><circle cx="512" cy="614" r="10"/><text x="512" y="619">K</text></g>
<g><circle cx="495" cy="614" r="10"/><text x="495" y="619">S</text></g>
<g class="g"><circle cx="478" cy="614" r="10"/><text x="478" y="619">R</text></g>
<g><circle cx="460" cy="614" r="10"/><text x="460" y="619">L</text></g>
<g><circle cx="443" cy="614" r="10"/><text x="443" y="619">N</text></g>
<g class="g"><circle cx="427" cy="614" r="10"/><text x="427" y="619">E</text></g>
<g class="g"><circle cx="410" cy="614" r="10"/><text x="410" y="619">T</text></g>
<g class="g"><circle cx="393" cy="614" r="10"/><text x="393" y="619">T</text></g>
<g><circle cx="375" cy="614" r="10"/><text x="375" y="619">E</text></g>
<g><circle cx="358" cy="614" r="10"/><text x="358" y="619">T</text></g>
<g><circle cx="342" cy="614" r="10"/><text x="342" y="619">Q</text></g>
<g><circle cx="325" cy="614" r="10"/><text x="325" y="619">R</text></g>
<g class="g"><circle cx="308" cy="614" r="10"/><text x="308" y="619">T</text></g>
<g><circle cx="290" cy="614" r="10"/><text x="290" y="619">L</text></g>
<g><circle cx="273" cy="614" r="10"/><text x="273" y="619">L</text></g>
<g><circle cx="257" cy="614" r="10"/><text x="257" y="619">N</text></g>
<g><circle cx="240" cy="614" r="10"/><text x="240" y="619">G</text></g>
<g><circle cx="223" cy="614" r="10"/><text x="223" y="619">D</text></g>
<g><circle cx="205" cy="614" r="10"/><text x="205" y="619">L</text></g>
<g><circle cx="188" cy="614" r="10"/><text x="188" y="619">Q</text></g>
<g class="r"><circle cx="172" cy="614" r="10"/><text x="172" y="619">T</text></g>
<g><circle cx="155" cy="614" r="10"/><text x="155" y="619">S</text></g>
<g class="r"><circle cx="138" cy="614" r="10"/><text x="138" y="619">I</text></g>
</g>
</svg>
</body></html>
